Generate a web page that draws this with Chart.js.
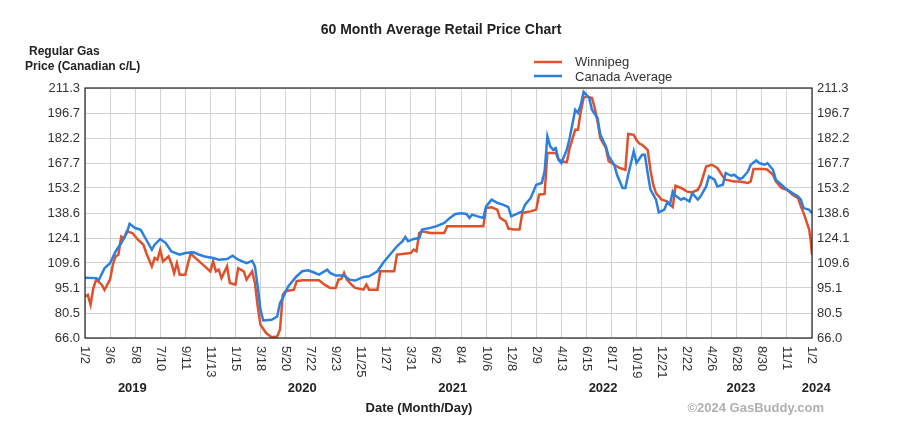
<!DOCTYPE html>
<html lang="en">
  <head>
    <meta charset="UTF-8" />
    <title>60 Month Average Retail Price Chart</title>
    <style>
      body {
        margin: 0;
        background: white;
      }
      #wrap {
        width: 903px;
        height: 437px;
      }
    </style>
    <script src="https://cdn.jsdelivr.net/npm/chart.js"></script>
  </head>
  <body>
    <div id="wrap">
      <canvas id="priceChart" width="903" height="437"></canvas>
    </div>

    <script>
      // weeks counted from 1/2/2019, prices in Canadian cents per litre
      const canadaWeeks = [
        0, 4, 5, 7, 9, 11, 13, 15, 16, 18, 20, 22, 24, 25, 27, 29, 31, 34, 36,
        39, 41, 43, 46, 48, 51, 53, 55, 58, 60, 61, 62, 63, 64, 67, 69, 70, 71,
        73, 76, 78, 80, 82, 84, 87, 88, 90, 93, 95, 97, 100, 102, 105, 107, 109,
        112, 114, 115, 116, 118, 120, 121, 124, 126, 129, 131, 133, 135, 137,
        138, 139, 141, 143, 144, 146, 148, 150, 152, 153, 155, 157, 158, 160,
        162, 164, 165, 166, 167, 168, 169, 170, 171, 173, 174, 176, 177, 178,
        179, 181, 182, 184, 185, 187, 188, 190, 191, 193, 194, 195, 197, 198,
        200, 201, 202, 203, 205, 206, 208, 209, 210, 211, 212, 214, 215, 217,
        218, 220, 221, 223, 224, 226, 227, 229, 230, 232, 233, 235, 236, 238,
        239, 241, 242, 244, 245, 246, 247, 248, 250, 252, 254, 256, 257, 258,
        260, 261,
      ];
      const canadaPrices = [
        101, 100.8, 99.9, 106.6, 109.5, 116.3, 121.2, 127, 132.4, 129.9, 128.9,
        123.1, 117.3, 120.2, 123.5, 121.2, 116.3, 114.4, 115.4, 115.8, 114.4,
        113.4, 112.5, 111.5, 111.9, 113.8, 111.5, 109.5, 110.9, 107.6, 96, 82.4,
        76.2, 76.6, 78.5, 86.3, 89.3, 96.1, 101.9, 104.8, 105.4, 104.2, 102.8,
        105.7, 103.8, 102.3, 102.3, 99.9, 99.4, 101.5, 101.9, 104.8, 109.6,
        113.5, 119.3, 122.2, 124.7, 122.2, 123.6, 124.1, 129, 130, 130.9, 132.9,
        135.8, 138.1, 138.5, 138.1, 135.8, 137.7, 136.7, 135.8, 142.5, 146.4,
        144.5, 143.5, 142, 136.7, 138.1, 139.6, 143.5, 147.4, 155.1, 156.1,
        162.9, 183.2, 177.4, 175.5, 176.4, 169.7, 167.7, 175.5, 182.2, 198.7,
        196.8, 201.6, 209, 205.5, 198.7, 193.9, 184.2, 177.4, 171.6, 166.7,
        160.9, 153.2, 153.2, 160.9, 174.5, 167.7, 172.5, 172.5, 161.9, 152.2,
        146.4, 139, 140.6, 144.8, 143.5, 151.2, 148.7, 146.4, 147.3, 145.4,
        150.2, 146.4, 148.3, 154.1, 159.9, 158, 154.1, 155.1, 161.9, 160.3,
        160.9, 158.4, 159, 162.8, 166.7, 169.2, 167.7, 166.7, 167.7, 165.7,
        163.8, 158, 155.1, 152.2, 150.2, 148.3, 146.4, 141.5, 140.5, 138.6,
      ];

      const winnipegWeeks = [
        0, 1, 2, 3, 4, 6, 7, 9, 10, 11, 12, 13, 14, 15, 17, 19, 21, 22, 24, 25,
        26, 27, 28, 30, 31, 32, 33, 34, 36, 37, 38, 39, 41, 43, 45, 46, 47, 48,
        49, 51, 52, 54, 55, 57, 58, 60, 61, 62, 63, 65, 67, 69, 70, 71, 72, 75,
        76, 78, 84, 86, 88, 90, 91, 92, 93, 94, 96, 97, 100, 101, 102, 105, 106,
        111, 112, 117, 118, 119, 120, 121, 124, 129, 130, 143, 144, 146, 148,
        149, 151, 152, 154, 156, 157, 160, 162, 163, 165, 166, 169, 170, 172,
        173, 174, 176, 177, 178, 179, 180, 182, 183, 184, 185, 187, 188, 190,
        192, 194, 195, 197, 198, 199, 200, 202, 203, 204, 205, 207, 209, 210,
        211, 212, 214, 216, 218, 220, 221, 223, 225, 227, 229, 230, 233, 235,
        238, 239, 240, 244, 245, 247, 248, 250, 252, 254, 256, 257, 258, 259,
        260, 260.5, 261,
      ];
      const winnipegPrices = [
        90, 91.1, 85.3, 95, 99.9, 97, 94, 99.9, 108.6, 113.4, 114.4, 125, 124,
        128, 127, 123.1, 120.2, 115.4, 107.6, 112.5, 111.5, 117.3, 110.5, 113.4,
        109.5, 103.7, 109.5, 102.8, 102.8, 109.5, 115.4, 113.4, 110.5, 107.6,
        104.7, 110.5, 104.7, 105.7, 100.8, 107.6, 98, 97, 106.6, 104.7, 99.9,
        104.7, 98, 84.4, 73.7, 68.9, 66.5, 66.9, 70.8, 91.2, 93.2, 94.1, 99,
        99.5, 99.5, 97, 95.1, 95.1, 99.9, 100.3, 103.8, 99.9, 96.5, 95.1, 94.1,
        97, 94.1, 94.1, 104.8, 104.8, 114.5, 115.4, 117.4, 116.4, 127, 128, 127,
        127, 130.9, 130.9, 141.6, 142, 140.6, 135.8, 133.8, 129.6, 129, 129,
        138.7, 139.6, 140.6, 149.3, 149.7, 173.5, 173.5, 169.7, 168.3, 168.3,
        176.4, 187.1, 187.1, 197.7, 205.5, 206.5, 205.5, 199.7, 191.9, 182.2,
        176.4, 168.7, 166.7, 164.8, 163.8, 184.6, 184.1, 181, 179, 178.3, 175.4,
        163.8, 155.1, 150.2, 146.4, 145.4, 143.5, 142.1, 154.5, 153.2, 151.2,
        150.6, 152.2, 155.1, 165.7, 166.7, 164.8, 159.9, 158, 157, 157, 156.1,
        157, 164.2, 164.2, 163.8, 160.9, 157, 153.2, 152.2, 149.3, 147.3, 142.5,
        138.6, 133.8, 128.9, 123.1, 114.4,
      ];

      const xTickLabels = [
        "1/2", "3/6", "5/8", "7/10", "9/11", "11/13", "1/15", "3/18", "5/20",
        "7/22", "9/23", "11/25", "1/27", "3/31", "6/2", "8/4", "10/6", "12/8",
        "2/9", "4/13", "6/15", "8/17", "10/19", "12/21", "2/22", "4/26", "6/28",
        "8/30", "11/1", "1/2",
      ];
      const weeksPerTick = 9;

      const yTickLabels = [
        "66.0", "80.5", "95.1", "109.6", "124.1", "138.6", "153.2", "167.7",
        "182.2", "196.7", "211.3",
      ];

      const yearLabels = ["2019", "2020", "2021", "2022", "2023", "2024"];
      const yearWeeks = [17, 78, 132, 186, 235.5, 262.5];

      const FONT = "'Liberation Sans', Arial, sans-serif";
      const RED = "#e0512b";
      const BLUE = "#2a7fe0";

      const yTickValues = yTickLabels.map((t) => parseFloat(t));

      function setYTicks(scale) {
        scale.ticks = yTickValues.map((v) => ({ value: v }));
      }

      const textPlugin = {
        id: "gasText",
        afterDraw(chart) {
          const ctx = chart.ctx;
          const area = chart.chartArea;
          const xs = chart.scales.x;
          ctx.save();

          // frame round the plot
          ctx.strokeStyle = "#222";
          ctx.lineWidth = 1.2;
          ctx.strokeRect(area.left, area.top, area.right - area.left, area.bottom - area.top);

          ctx.fillStyle = "#222";
          ctx.textBaseline = "middle";

          ctx.font = "bold 14px " + FONT;
          ctx.textAlign = "center";
          ctx.fillText("60 Month Average Retail Price Chart", 441, 30);

          ctx.font = "bold 12px " + FONT;
          ctx.textAlign = "left";
          ctx.fillText("Regular Gas", 29, 52);
          ctx.fillText("Price (Canadian c/L)", 25, 67);

          // legend
          ctx.lineWidth = 2.5;
          ctx.strokeStyle = RED;
          ctx.beginPath();
          ctx.moveTo(534, 62);
          ctx.lineTo(562, 62);
          ctx.stroke();
          ctx.strokeStyle = BLUE;
          ctx.beginPath();
          ctx.moveTo(534, 76);
          ctx.lineTo(562, 76);
          ctx.stroke();
          ctx.font = "13px " + FONT;
          ctx.fillStyle = "#333";
          ctx.fillText("Winnipeg", 575, 62);
          ctx.fillText("Canada Average", 575, 77);

          // month/day labels, reading downwards
          ctx.font = "13px " + FONT;
          xTickLabels.forEach((label, i) => {
            const x = xs.getPixelForValue(i * weeksPerTick);
            ctx.save();
            ctx.translate(x, area.bottom + 8);
            ctx.rotate(Math.PI / 2);
            ctx.textAlign = "left";
            ctx.fillText(label, 0, 0);
            ctx.restore();
          });

          ctx.font = "bold 13px " + FONT;
          ctx.fillStyle = "#222";
          ctx.textAlign = "center";
          yearLabels.forEach((label, i) => {
            ctx.fillText(label, xs.getPixelForValue(yearWeeks[i]), 388);
          });
          ctx.fillText("Date (Month/Day)", 419, 408);

          ctx.fillStyle = "#b0b0b0";
          ctx.textAlign = "right";
          ctx.fillText("\u00a92024 GasBuddy.com", 824, 408);

          ctx.restore();
        },
      };

      const ctx = document.getElementById("priceChart").getContext("2d");
      new Chart(ctx, {
        type: "line",
        data: {
          datasets: [
            {
              label: "Canada Average",
              data: canadaWeeks.map((w, i) => ({ x: w, y: canadaPrices[i] })),
              borderColor: BLUE,
              borderWidth: 2.5,
              pointRadius: 0,
              tension: 0,
            },
            {
              label: "Winnipeg",
              data: winnipegWeeks.map((w, i) => ({ x: w, y: winnipegPrices[i] })),
              borderColor: RED,
              borderWidth: 2.5,
              pointRadius: 0,
              tension: 0,
            },
          ],
        },
        options: {
          responsive: false,
          animation: false,
          layout: { padding: { top: 88, left: 0, right: 0, bottom: 0 } },
          plugins: {
            legend: { display: false },
            title: { display: false },
            tooltip: { enabled: false },
          },
          scales: {
            x: {
              type: "linear",
              min: 0,
              max: (xTickLabels.length - 1) * weeksPerTick,
              afterBuildTicks(scale) {
                scale.ticks = xTickLabels.map((_, i) => ({ value: i * weeksPerTick }));
              },
              afterFit(scale) {
                scale.height = 99;
              },
              ticks: { display: false },
              grid: { color: "#d2d2d2", drawTicks: false },
              border: { display: false },
            },
            y: {
              position: "left",
              min: 66,
              max: 211.3,
              afterBuildTicks: setYTicks,
              afterFit(scale) {
                scale.width = 85;
              },
              ticks: {
                padding: 5,
                color: "#333",
                font: { family: FONT, size: 13 },
                callback: (v, i) => yTickLabels[i],
              },
              grid: { color: "#d2d2d2", drawTicks: false },
              border: { display: false },
            },
            yRight: {
              position: "right",
              min: 66,
              max: 211.3,
              afterBuildTicks: setYTicks,
              afterFit(scale) {
                scale.width = 91;
              },
              ticks: {
                padding: 5,
                color: "#333",
                font: { family: FONT, size: 13 },
                callback: (v, i) => yTickLabels[i],
              },
              grid: { display: false, drawTicks: false },
              border: { display: false },
            },
          },
        },
        plugins: [textPlugin],
      });
    </script>
  </body>
</html>
